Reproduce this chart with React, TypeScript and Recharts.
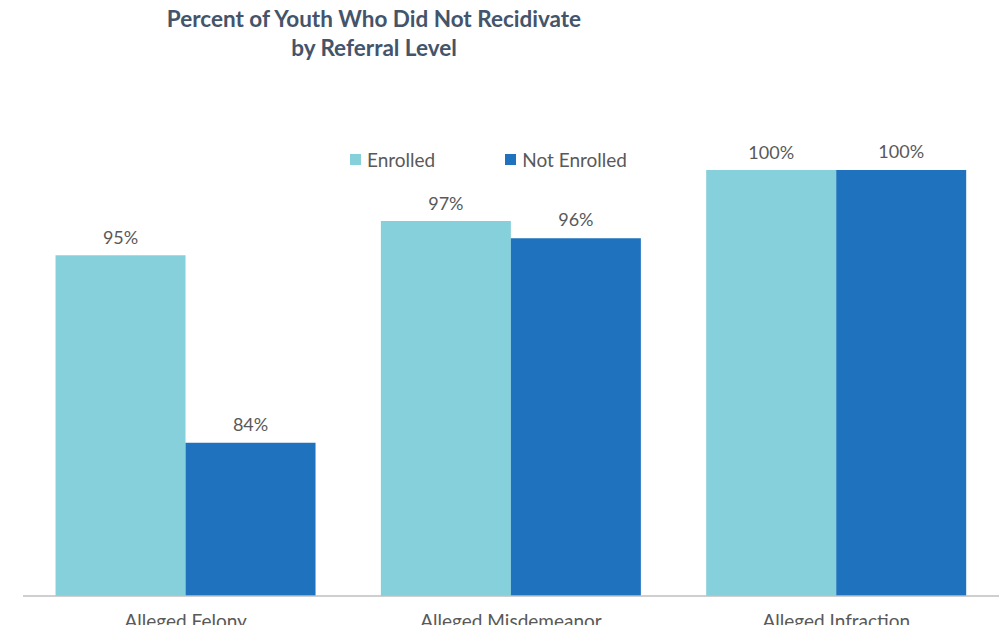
import React from 'react';
import { BarChart, Bar, XAxis, YAxis, LabelList } from 'recharts';

const categories = ['Alleged Felony', 'Alleged Misdemeanor', 'Alleged Infraction'];
const enrolled = [95, 97, 100];
const notEnrolled = [84, 96, 100];

const data = categories.map((name, i) => ({ name, enrolled: enrolled[i], notEnrolled: notEnrolled[i] }));

const font = 'Lato, "Open Sans", sans-serif';
const textGray = '#595959';
const lightBlue = '#86D0DC';
const darkBlue = '#1F72BD';

const CategoryTick = (props: any) => {
  const { x, y, payload } = props;
  return (
    <text x={x} y={y + 24} textAnchor="middle" fill={textGray} fontFamily={font} fontSize={19}>
      {payload.value}
    </text>
  );
};

const App: React.FC = () => {
  return (
    <div style={{ position: 'relative', width: 1007, height: 633, margin: -8, background: '#fff', overflow: 'hidden' }}>
      <div
        style={{
          position: 'absolute',
          left: 124,
          top: 4,
          width: 500,
          textAlign: 'center',
          fontFamily: font,
          fontWeight: 700,
          fontSize: 22.5,
          lineHeight: '29px',
          color: '#44546A',
        }}
      >
        Percent of Youth Who Did Not Recidivate
        <br />
        by Referral Level
      </div>
      {/* legend */}
      <div
        style={{
          position: 'absolute',
          left: 350,
          top: 148,
          display: 'flex',
          fontFamily: font,
          fontSize: 19,
          color: textGray,
          zIndex: 2,
        }}
      >
        <div style={{ display: 'flex', alignItems: 'center', marginRight: 70 }}>
          <span style={{ width: 11, height: 11, background: lightBlue, marginRight: 6, display: 'inline-block' }} />
          Enrolled
        </div>
        <div style={{ display: 'flex', alignItems: 'center' }}>
          <span style={{ width: 11, height: 11, background: darkBlue, marginRight: 6, display: 'inline-block' }} />
          Not Enrolled
        </div>
      </div>
      <BarChart
        width={1007}
        height={633}
        data={data}
        margin={{ top: 170, right: 8, bottom: 0, left: 23 }}
        barCategoryGap="10%"
        barGap={0}
      >
        <XAxis
          dataKey="name"
          axisLine={{ stroke: '#BFBFBF', strokeWidth: 1.5 }}
          tickLine={false}
          tick={<CategoryTick />}
          height={37}
          interval={0}
        />
        <YAxis hide domain={[75, 100]} allowDataOverflow />
        <Bar dataKey="enrolled" name="Enrolled" fill={lightBlue} isAnimationActive={false}>
          <LabelList
            dataKey="enrolled"
            position="top"
            offset={11}
            formatter={(v: any) => `${v}%`}
            fill={textGray}
            fontFamily={font}
            fontSize={18}
          />
        </Bar>
        <Bar dataKey="notEnrolled" name="Not Enrolled" fill={darkBlue} isAnimationActive={false}>
          <LabelList
            dataKey="notEnrolled"
            position="top"
            offset={12}
            formatter={(v: any) => `${v}%`}
            fill={textGray}
            fontFamily={font}
            fontSize={18}
          />
        </Bar>
      </BarChart>
    </div>
  );
};

export default App;
